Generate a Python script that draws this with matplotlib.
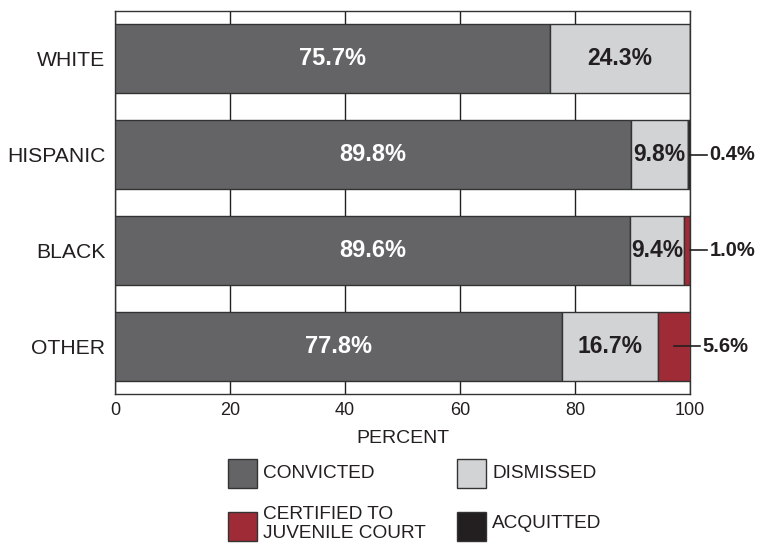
import matplotlib.pyplot as plt
from matplotlib.patches import Rectangle
import numpy as np

plt.rcParams['font.family'] = ['Liberation Sans', 'DejaVu Sans']

groups = ["WHITE", "HISPANIC", "BLACK", "OTHER"]
convicted = np.array([75.7, 89.8, 89.6, 77.8])
dismissed = np.array([24.3, 9.8, 9.4, 16.7])
certified = np.array([0.0, 0.0, 1.0, 5.6])
acquitted = np.array([0.0, 0.4, 0.0, 0.0])

series = [
    ("CONVICTED", convicted, "#646466"),
    ("DISMISSED", dismissed, "#d2d3d5"),
    ("CERTIFIED TO\nJUVENILE COURT", certified, "#9e2b35"),
    ("ACQUITTED", acquitted, "#231f20"),
]

fig = plt.figure(figsize=(7.57, 5.44), dpi=100)
ax = fig.add_axes([115 / 757, 1 - 394 / 544, 575 / 757, 383 / 544])

y = np.arange(len(groups))
left = np.zeros(len(groups))
for name, vals, col in series:
    ax.barh(y, vals, left=left, height=0.72, color=col, edgecolor="#333333",
            linewidth=1, zorder=3)
    left += vals

# labels inside bars
for i in range(len(groups)):
    ax.text(convicted[i] / 2, i, f"{convicted[i]:.1f}%", color="white",
            fontsize=17, fontweight="bold", ha="center", va="center", zorder=4)
    ax.text(convicted[i] + dismissed[i] / 2, i, f"{dismissed[i]:.1f}%",
            color="#231f20", fontsize=16.5, fontweight="bold", ha="center",
            va="center", zorder=4)

# small segments labelled outside with a leader line
small = certified + acquitted
for i in range(len(groups)):
    v = small[i]
    if v <= 0:
        continue
    start = 100 - v / 2 if v > 3 else 100
    end = 101.7 if v > 3 else 103
    ax.plot([start, end], [i, i], color="#231f20", lw=1.2, clip_on=False, zorder=5)
    ax.text(end + 0.4, i, f"{v:.1f}%", fontsize=14.5, fontweight="bold",
            color="#231f20", ha="left", va="center")

ax.set_xlim(0, 100)
ax.set_ylim(3.5, -0.5)
ax.set_xticks([0, 20, 40, 60, 80, 100])
ax.set_yticks(y)
ax.set_yticklabels(groups, fontsize=15.2, color="#231f20")
ax.tick_params(axis="x", labelsize=13, colors="#231f20", length=0, pad=6)
ax.tick_params(axis="y", length=0, pad=7)
ax.xaxis.grid(True, color="#231f20", lw=1, zorder=0)
for s in ax.spines.values():
    s.set_color("#333333")
    s.set_linewidth(1)
ax.set_xlabel("PERCENT", fontsize=14, color="#231f20", labelpad=8)

# legend drawn as boxes in figure pixels
legend_items = [
    ("CONVICTED", "#646466", 228, 459, 263, 473),
    ("DISMISSED", "#d2d3d5", 457, 459, 492, 473),
    ("CERTIFIED TO\nJUVENILE COURT", "#9e2b35", 228, 512, 263, 524),
    ("ACQUITTED", "#231f20", 457, 512, 492, 524),
]
for name, col, px, py, tx, ty in legend_items:
    fig.add_artist(Rectangle((px / 757, 1 - (py + 29) / 544), 29 / 757, 29 / 544,
                             facecolor=col, edgecolor="#333333", lw=1,
                             transform=fig.transFigure))
    fig.text(tx / 757, 1 - ty / 544, name, fontsize=13.7, color="#231f20",
             ha="left", va="center", linespacing=1.1)

fig.savefig("out.png", dpi=100)
